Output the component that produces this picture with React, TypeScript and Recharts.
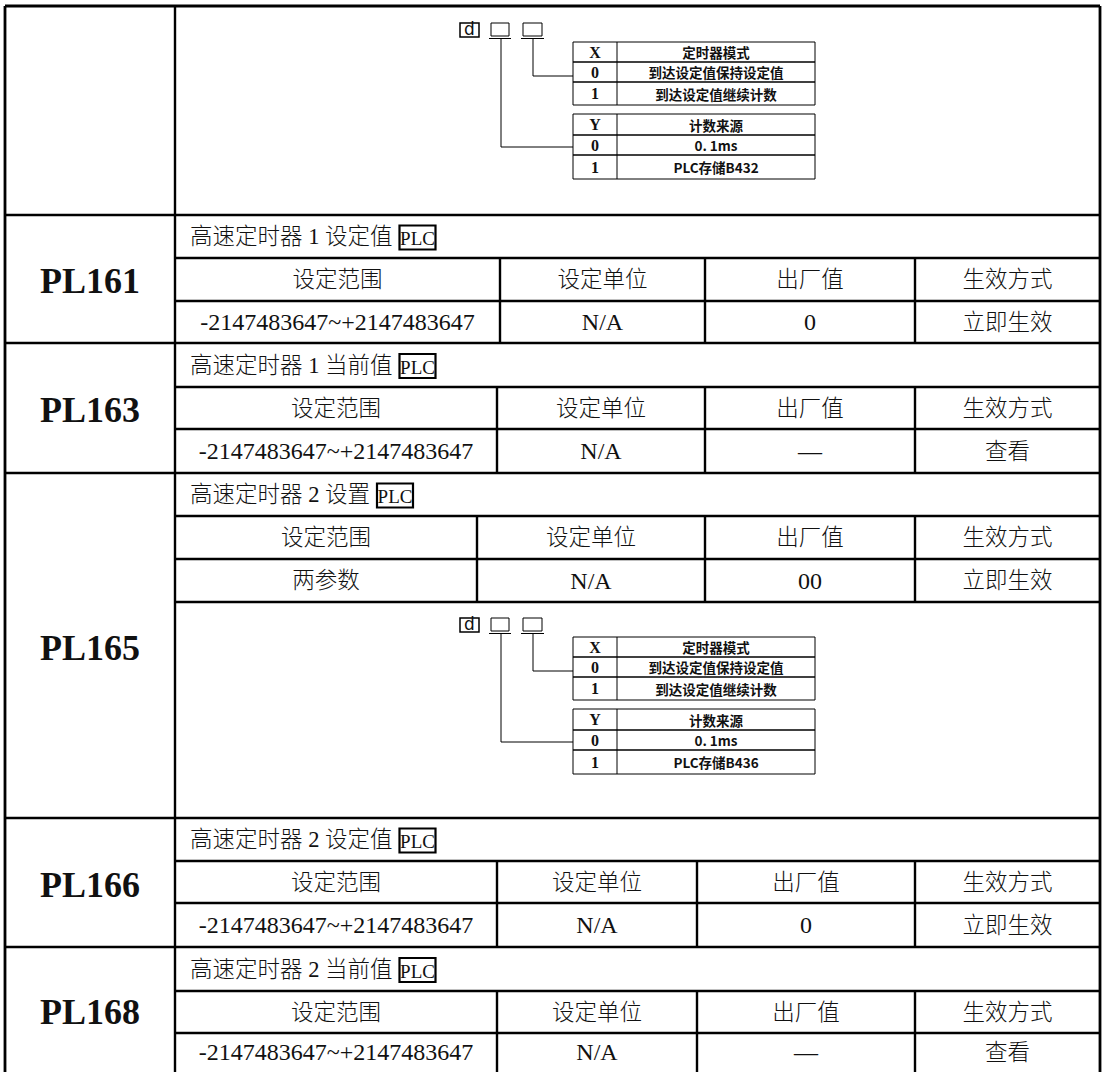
import { ComposedChart, XAxis, YAxis, Scatter, ReferenceLine, ReferenceArea } from 'recharts'

// parameter table content
const paramCodes = ['PL161', 'PL163', 'PL165', 'PL166', 'PL168']
const paramTitles = ['高速定时器 1 设定值', '高速定时器 1 当前值', '高速定时器 2 设置', '高速定时器 2 设定值', '高速定时器 2 当前值']
const columnHeaders = ['设定范围', '设定单位', '出厂值', '生效方式']
const ranges = ['-2147483647~+2147483647', '-2147483647~+2147483647', '两参数', '-2147483647~+2147483647', '-2147483647~+2147483647']
const units = ['N/A', 'N/A', 'N/A', 'N/A', 'N/A']
const factoryValues = ['0', '—', '00', '0', '—']
const effectModes = ['立即生效', '查看', '立即生效', '立即生效', '查看']
const tag = 'PLC'

// diagram content
const modeRows = [['X', '定时器模式'], ['0', '到达设定值保持设定值'], ['1', '到达设定值继续计数']]
const sourceRows = [['Y', '计数来源'], ['0', '0. 1ms']]
const storeAddrs = ['PLC存储B432', 'PLC存储B436']

// layout
const W = 1105
const H = 1072
const LEFT = 5
const RIGHT = 1100
const CODE_COL = 175
const LAST_COL = 915
const TOP = 6
const BOTTOM = 1072
const blockRows = [
  [215, 258, 301, 343],
  [343, 387, 429, 473],
  [473, 516, 559, 602],
  [818, 861, 903, 947],
  [947, 991, 1033, 1072],
]
const blockCols = [[500, 705], [497, 705], [477, 705], [497, 697], [497, 697]]
const diagramShift = [0, 595]

const SERIF = "'Liberation Serif', 'Noto Sans CJK SC', serif"
const CJK = "'Noto Sans CJK SC', 'Liberation Serif', sans-serif"

const textStyles: Record<string, any> = {
  code: { size: 36, weight: 700, family: SERIF, anchor: 'middle' },
  title: { size: 22.5, weight: 300, family: SERIF, anchor: 'start' },
  cell: { size: 22.5, weight: 300, family: SERIF, anchor: 'middle' },
  num: { size: 24, weight: 400, family: SERIF, anchor: 'middle' },
  tag: { size: 19, weight: 400, family: SERIF, anchor: 'middle' },
  dmark: { size: 17, weight: 400, family: "'DejaVu Sans', sans-serif", anchor: 'middle' },
  key: { size: 16, weight: 700, family: "'Liberation Serif', serif", anchor: 'middle' },
  desc: { size: 13.5, weight: 700, family: CJK, anchor: 'middle' },
}

const isCJK = (s: string) => /[\u4e00-\u9fff]/.test(s)

const textWidth = (s: string, fs: number) => {
  let w = 0
  for (const ch of s) {
    if (isCJK(ch)) w += fs
    else if (ch === ' ') w += fs * 0.25
    else w += fs * 0.5
  }
  return w
}

type T = { x: number; y: number; label: string; kind: string }
const texts: T[] = []
const lines: { a: [number, number]; b: [number, number]; w: number }[] = []
const boxes: { x1: number; x2: number; y1: number; y2: number; w: number }[] = []

const hl = (x1: number, x2: number, y: number, w = 2.4) => lines.push({ a: [x1, y], b: [x2, y], w })
const vl = (x: number, y1: number, y2: number, w = 2.4) => lines.push({ a: [x, y1], b: [x, y2], w })

// outer frame
vl(LEFT, TOP, BOTTOM, 2.8)
vl(RIGHT, TOP, BOTTOM, 2.8)
vl(CODE_COL, TOP, BOTTOM)
hl(LEFT, RIGHT, TOP, 2.8)

paramCodes.forEach((code, i) => {
  const [r0, r1, r2, r3] = blockRows[i]
  const [c1, c2] = blockCols[i]
  hl(LEFT, RIGHT, r0)
  hl(CODE_COL, RIGHT, r1)
  hl(CODE_COL, RIGHT, r2)
  if (i === 2) hl(CODE_COL, RIGHT, r3)
  ;[c1, c2, LAST_COL].forEach((c) => vl(c, r1, r3))
  const xs = [CODE_COL, c1, c2, LAST_COL, RIGHT]
  const mids = xs.slice(0, 4).map((x, k) => (x + xs[k + 1]) / 2)
  const codeY = i === 2 ? (r0 + blockRows[3][0]) / 2 : (r0 + r3) / 2
  texts.push({ x: (LEFT + CODE_COL) / 2, y: codeY + 2, label: code, kind: 'code' })
  const ty = (r0 + r1) / 2
  texts.push({ x: 190, y: ty, label: paramTitles[i], kind: 'title' })
  const tw = textWidth(paramTitles[i], textStyles.title.size)
  const tx = 190 + tw + 7
  const tagW = 36
  boxes.push({ x1: tx, x2: tx + tagW, y1: ty - 11, y2: ty + 13, w: 2.2 })
  texts.push({ x: tx + tagW / 2, y: ty + 2, label: tag, kind: 'tag' })
  columnHeaders.forEach((h, k) => texts.push({ x: mids[k], y: (r1 + r2) / 2, label: h, kind: 'cell' }))
  const vals = [ranges[i], units[i], factoryValues[i], effectModes[i]]
  const vy = i === 4 ? (r2 + 1071) / 2 : (r2 + r3) / 2
  vals.forEach((v, k) => texts.push({ x: mids[k], y: vy, label: v, kind: isCJK(v) ? 'cell' : 'num' }))
})

diagramShift.forEach((dy, n) => {
  // d marker and two digit boxes
  boxes.push({ x1: 460, x2: 479, y1: 23 + dy, y2: 37 + dy, w: 1.5 })
  texts.push({ x: 469.5, y: 29 + dy, label: 'd', kind: 'dmark' })
  boxes.push({ x1: 491, x2: 509, y1: 23 + dy, y2: 36 + dy, w: 1 })
  boxes.push({ x1: 523, x2: 542, y1: 23 + dy, y2: 36 + dy, w: 1 })
  hl(489, 511, 38.5 + dy, 1)
  hl(521, 544, 38.5 + dy, 1)
  // connectors
  vl(501, 38.5 + dy, 147 + dy, 1)
  hl(501, 573, 147 + dy, 1)
  vl(533, 38.5 + dy, 76 + dy, 1)
  hl(533, 573, 76 + dy, 1)
  // mode table and source table
  const xRows = [42, 62, 82, 105]
  const yRows = [114, 135, 155, 179]
  ;[xRows, yRows].forEach((rows, t) => {
    boxes.push({ x1: 573, x2: 815, y1: rows[0] + dy, y2: rows[3] + dy, w: 1 })
    vl(617, rows[0] + dy, rows[3] + dy, 1)
    hl(573, 815, rows[1] + dy, 1.3)
    hl(573, 815, rows[2] + dy, 1.3)
    const content = t === 0 ? modeRows : [...sourceRows, ['1', storeAddrs[n]]]
    content.forEach(([k, d], j) => {
      const cy = (rows[j] + rows[j + 1]) / 2 + dy
      texts.push({ x: 595, y: cy, label: k, kind: 'key' })
      texts.push({ x: 716, y: cy, label: d, kind: 'desc' })
    })
  })
})

const TextMark = (props: any) => {
  const { cx, cy, payload } = props
  const s = textStyles[payload.kind]
  return (
    <text
      x={cx}
      y={cy}
      textAnchor={s.anchor}
      dominantBaseline="central"
      fontFamily={s.family}
      fontSize={s.size}
      fontWeight={s.weight}
      fill="#111"
    >
      {payload.label}
    </text>
  )
}

export default function App() {
  return (
    <div style={{ width: W, height: H, background: '#fff' }}>
      <style>{'body{margin:0}'}</style>
      <ComposedChart width={W} height={H} margin={{ top: 0, right: 0, bottom: 0, left: 0 }}>
        <XAxis type="number" dataKey="x" domain={[0, W]} allowDataOverflow hide />
        <YAxis type="number" dataKey="y" domain={[0, H]} allowDataOverflow reversed hide />
        {boxes.map((b, i) => (
          <ReferenceArea
            key={'b' + i}
            x1={b.x1}
            x2={b.x2}
            y1={b.y1}
            y2={b.y2}
            fill="none"
            fillOpacity={0}
            stroke="#000"
            strokeWidth={b.w}
            ifOverflow="visible"
          />
        ))}
        {lines.map((l, i) => (
          <ReferenceLine
            key={'l' + i}
            segment={[{ x: l.a[0], y: l.a[1] }, { x: l.b[0], y: l.b[1] }]}
            stroke="#000"
            strokeWidth={l.w}
            ifOverflow="visible"
          />
        ))}
        <Scatter data={texts} dataKey="y" shape={TextMark} isAnimationActive={false} />
      </ComposedChart>
    </div>
  )
}
